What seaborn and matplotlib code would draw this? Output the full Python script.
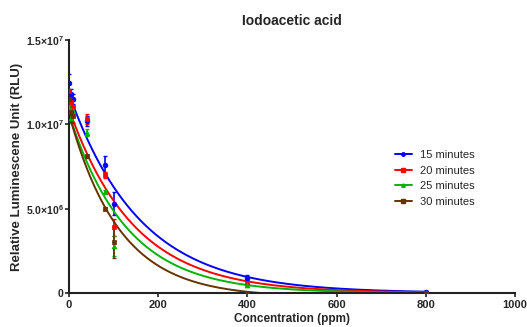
import numpy as np
import pandas as pd
import matplotlib
matplotlib.use("Agg")
import matplotlib.pyplot as plt
import seaborn as sns

conc = [0, 5, 10, 40, 80, 100, 400, 800]
series_names = ["15 minutes", "20 minutes", "25 minutes", "30 minutes"]
m15 = [12.45, 11.8, 11.5, 10.2, 7.6, 5.3, 0.9, 0.05]
m20 = [12.0, 11.3, 11.0, 10.3, 7.0, 3.9, 0.6, 0.0]
m25 = [11.0, 10.4, 10.8, 9.5, 6.0, 2.8, 0.45, 0.0]
m30 = [11.5, 10.7, 10.5, 8.1, 5.0, 3.0, 0.0, 0.0]
e15 = [0.5, 0.3, 0.3, 0.3, 0.5, 0.7, 0.15, 0.05]
e20 = [0.4, 0.4, 0.4, 0.3, 0.2, 0.5, 0.1, 0.02]
e25 = [0.5, 0.3, 0.3, 0.2, 0.1, 0.6, 0.1, 0.02]
e30 = [0.6, 0.4, 0.4, 0.1, 0.1, 0.9, 0.05, 0.02]
# one-phase decay fit parameters: Y0, K, plateau (x1e6)
fit_y0 = [11.8, 10.9, 10.6, 10.6]
fit_k = [0.0063, 0.0069, 0.0078, 0.0088]
fit_plateau = [0.0, 0.0, 0.0, -0.25]
colors = ["#0000FF", "#FF0000", "#00B400", "#663300"]
markers = ["o", "s", "^", "s"]
yticks = [0, 5e6, 1e7, 1.5e7]
ytick_labels = ["0", r"$\mathbf{5.0{\times}10^{6}}$", r"$\mathbf{1.0{\times}10^{7}}$", r"$\mathbf{1.5{\times}10^{7}}$"]
xticks = [0, 200, 400, 600, 800, 1000]

sns.set_style("ticks")
plt.rcParams["font.family"] = ["Liberation Sans", "DejaVu Sans"]
plt.rcParams["mathtext.fontset"] = "custom"
plt.rcParams["mathtext.bf"] = "Liberation Sans:bold"
plt.rcParams["mathtext.rm"] = "Liberation Sans"

fig = plt.figure(figsize=(5.27, 3.27), dpi=100)
ax = fig.add_axes([0.131, 0.104, 0.846, 0.774])

x = np.array(conc, dtype=float)
xs = np.linspace(0, 800, 400)
ys_all = [m15, m20, m25, m30]
es_all = [e15, e20, e25, e30]
for i, (name, yv, ev, c, mk) in enumerate(zip(series_names, ys_all, es_all, colors, markers)):
    y = np.array(yv) * 1e6
    e = np.array(ev) * 1e6
    p = fit_plateau[i]
    curve = ((fit_y0[i] - p) * np.exp(-fit_k[i] * xs) + p) * 1e6
    dfc = pd.DataFrame({"x": xs, "y": curve})
    sns.lineplot(data=dfc, x="x", y="y", color=c, lw=1.4, ax=ax, legend=False)
    ax.errorbar(x, y, yerr=e, fmt="none", ecolor=c, elinewidth=1.2, capsize=1.5, capthick=1.0)
    dfp = pd.DataFrame({"x": x, "y": y})
    sns.scatterplot(data=dfp, x="x", y="y", color=c, marker=mk, s=12, edgecolor=c, linewidth=0.5, ax=ax, legend=False, zorder=5)
    ax.plot([], [], color=c, marker=mk, ms=2.5, lw=1.4, label=name)

ax.set_xlim(0, 1000)
ax.set_ylim(0, 1.5e7)
ax.set_xticks(xticks)
ax.set_xticklabels([str(t) for t in xticks], fontweight="bold", fontsize=8)
ax.set_yticks(yticks)
ax.set_yticklabels(ytick_labels, fontweight="bold", fontsize=7.5)
ax.tick_params(axis="x", length=3, width=1.2, color="#222222", pad=2)
ax.tick_params(axis="y", length=3, width=1.2, color="#222222", pad=1)
for s in ["top", "right"]:
    ax.spines[s].set_visible(False)
for s in ["left", "bottom"]:
    ax.spines[s].set_linewidth(1.5)
    ax.spines[s].set_color("#222222")
ax.set_xlabel("Concentration (ppm)", fontweight="bold", fontsize=8.5, labelpad=2.5)
ax.set_ylabel("Relative Luminescene Unit (RLU)", fontweight="bold", fontsize=9.5, labelpad=2)
ax.set_title("Iodoacetic acid", fontweight="bold", fontsize=10, pad=11)
ax.legend(loc="upper left", bbox_to_anchor=(0.718, 0.588), frameon=False, fontsize=8,
          handlelength=1.55, handletextpad=0.7, labelspacing=0.52, borderpad=0)

fig.savefig("out.png", dpi=100)
